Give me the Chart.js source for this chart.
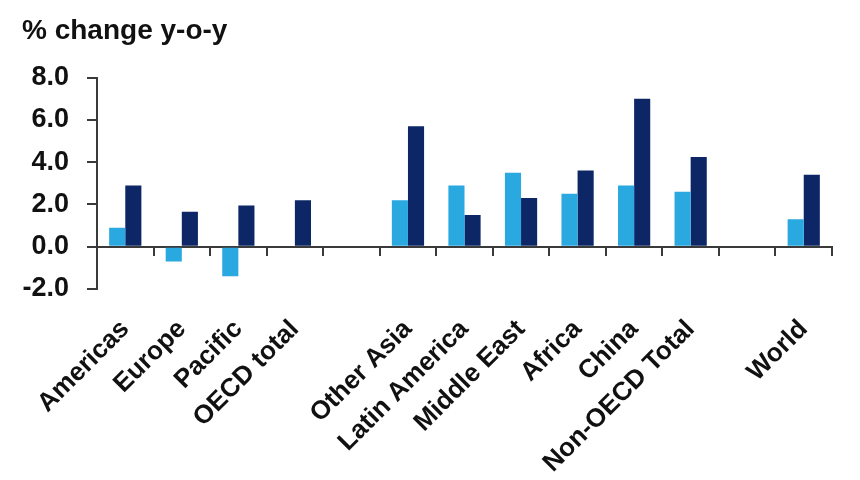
<!DOCTYPE html>
<html>
<head>
<meta charset="utf-8">
<script src="https://cdn.jsdelivr.net/npm/chart.js@4.4.1/dist/chart.umd.min.js"></script>
<style>
  html, body { margin: 0; padding: 0; background: #fff; }
  #wrap { width: 860px; height: 480px; position: relative; }
</style>
</head>
<body>
<div id="wrap"><canvas id="growthChart"></canvas></div>
<script>
// regions, with blank slots where the source chart leaves a gap
const regions = ['Americas', 'Europe', 'Pacific', 'OECD total', '',
    'Other Asia', 'Latin America', 'Middle East', 'Africa', 'China', 'Non-OECD Total', '',
    'World'];
const lightSeries = [0.9, -0.7, -1.4, 0, null, 2.2, 2.9, 3.5, 2.5, 2.9, 2.6, null, 1.3];
const darkSeries = [2.9, 1.65, 1.95, 2.2, null, 5.7, 1.5, 2.3, 3.6, 7.0, 4.25, null, 3.4];
const yTicks = [-2, 0, 2, 4, 6, 8];

Chart.defaults.font.family = "'Liberation Sans', Arial, sans-serif";
Chart.defaults.color = '#111';

const axisColor = '#3a3a3a';
const ctx = document.getElementById('growthChart').getContext('2d');

new Chart(ctx, {
    type: 'bar',
    data: {
        labels: regions,
        datasets: [{
            label: 'light',
            data: lightSeries,
            backgroundColor: '#2aa8e0',
            borderWidth: 0
        }, {
            label: 'dark',
            data: darkSeries,
            backgroundColor: '#0d2766',
            borderWidth: 0
        }]
    },
    options: {
        responsive: true,
        maintainAspectRatio: false,
        animation: false,
        categoryPercentage: 0.57,
        barPercentage: 1.0,
        layout: { padding: { left: 22, right: 28, top: 0, bottom: 0 } },
        plugins: {
            legend: { display: false },
            tooltip: { enabled: false },
            title: {
                display: true,
                text: '% change y-o-y',
                align: 'start',
                color: '#111',
                font: { size: 28, weight: 'bold' },
                padding: { top: 14, bottom: 30 }
            }
        },
        scales: {
            x: {
                position: 'bottom',
                grid: { display: false },
                border: { display: false },
                ticks: {
                    autoSkip: false,
                    maxRotation: 45,
                    minRotation: 45,
                    padding: 17,
                    color: '#111',
                    font: { size: 26, weight: 'bold' }
                },
                afterFit: function (scale) { scale.height = 191; }
            },
            // zero line with its small category ticks
            xZero: {
                type: 'category',
                labels: regions,
                position: { y: 0 },
                offset: true,
                grid: {
                    offset: true,
                    drawOnChartArea: false,
                    drawTicks: true,
                    tickLength: 8,
                    color: axisColor,
                    lineWidth: 2
                },
                border: { display: true, color: axisColor, width: 2 },
                ticks: { display: false }
            },
            y: {
                min: -2,
                max: 8,
                afterBuildTicks: function (scale) {
                    scale.ticks = yTicks.map(v => ({ value: v }));
                },
                grid: {
                    drawOnChartArea: false,
                    drawTicks: true,
                    tickLength: 10,
                    color: axisColor,
                    lineWidth: 2
                },
                border: { display: true, color: axisColor, width: 2 },
                ticks: {
                    padding: 18,
                    color: '#111',
                    font: { size: 27, weight: 'bold' },
                    callback: function (value) { return Number(value).toFixed(1); }
                },
                afterFit: function (scale) { scale.width = 75; }
            }
        }
    }
});
</script>
</body>
</html>
